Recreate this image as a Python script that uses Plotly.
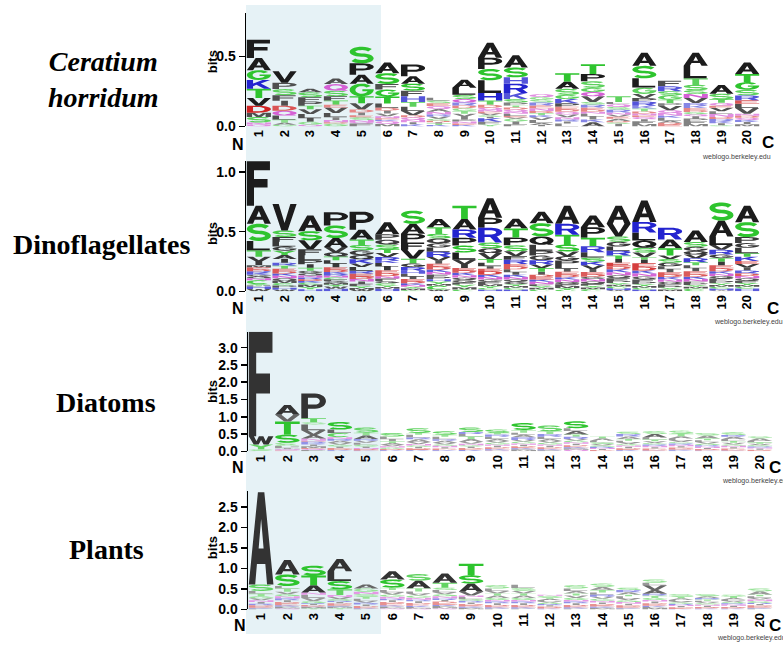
import math
import plotly.graph_objects as go

# ---------------- data ----------------
positions = list(range(1, 21))
tick_labels = [str(p) for p in positions]

# letters listed top-to-bottom for each position, heights in bits
ceratium_letters = ["FAGKTVDMSNQ", "VPSFIDQLTAG", "ASFPTVLIGQ", "AQSFTEVLINDG", "SPAGTVDIESNQF",
                    "ASFGTLDIVNEKQM", "PASFHTLVDQNIK", "LSEQANRVGDITK", "ALSQRDGTVIPNEK", "APSLHTDQNEVGIKFY",
                    "ASHRKSPTDQNLEVGIF", "QGSRENDTKVLAI", "TASGKPEDQVNRIL", "TPSGQVSREDNLIKA", "TLQSRNVEADGI",
                    "ASLGVPRKTDNEQIFM", "FRSGTPVQNKLADE", "ALTSSNVRKEDGQIPFM", "ASTQEVLNDRKIG", "ATGSRELVNDQKIM"]
ceratium_bits = [[.13, .087, .07, .063, .066, .054, .05, .03, .04, .015, .013],
                 [.082, .045, .043, .04, .036, .035, .035, .03, .02, .015, .012],
                 [.025, .035, .03, .03, .025, .035, .03, .025, .02, .013],
                 [.04, .047, .04, .03, .03, .02, .04, .03, .02, .015, .01, .02],
                 [.118, .082, .063, .09, .05, .045, .02, .02, .015, .02, .015, .01, .02],
                 [.075, .077, .04, .05, .05, .03, .02, .02, .02, .015, .01, .01, .02, .018],
                 [.084, .053, .05, .04, .04, .035, .03, .03, .015, .02, .015, .015, .015],
                 [.02, .02, .02, .02, .02, .02, .015, .015, .015, .01, .01, .01, .01],
                 [.058, .05, .03, .025, .02, .02, .02, .02, .02, .02, .015, .015, .01, .01],
                 [.106, .08, .081, .09, .055, .03, .02, .015, .015, .01, .015, .01, .01, .025, .02, .014],
                 [.087, .07, .046, .066, .043, .025, .02, .015, .015, .015, .015, .015, .01, .01, .02, .02, .015],
                 [.02, .02, .02, .02, .02, .02, .015, .015, .015, .02, .02, .015, .01],
                 [.06, .052, .043, .03, .03, .025, .02, .015, .02, .02, .015, .015, .015, .02],
                 [.071, .051, .047, .03, .03, .04, .02, .02, .015, .015, .015, .02, .02, .02, .03],
                 [.042, .015, .02, .02, .02, .015, .015, .015, .015, .01, .01, .019],
                 [.094, .089, .066, .045, .03, .025, .03, .02, .02, .015, .015, .01, .015, .015, .02, .017],
                 [.04, .035, .03, .03, .025, .02, .03, .02, .02, .015, .02, .015, .013, .013],
                 [.094, .089, .046, .04, .025, .03, .035, .02, .015, .015, .015, .015, .015, .015, .02, .02, .017],
                 [.063, .04, .025, .02, .015, .025, .02, .02, .015, .015, .015, .015, .008],
                 [.082, .058, .054, .04, .035, .025, .03, .04, .015, .015, .015, .015, .015, .016]]

dino_letters = ["FASLTVIMEDRKGQNCYPHW", "VSFLGYAIRTEDKNQMCPHW", "ASVFLPITGQNRDKCMYH", "PSAVQTLIEDKRNCFGMYWH",
                "PATSGQKVLREDNIFYMW", "APQSTVRKLIEDNFGCYMH", "SAPFVTGRHLIEDKNYMC", "ATSQGLRVIEDKNFPHYMCW",
                "TARPSLVIEDKNQGFYMC", "APRSQVTLIEDKNGFMYCH", "ATPSVFREDLIKNQGYMCH", "ASQLPGRVTIDEKNFYMC",
                "ARTSVGPLIEDKNQFMYC", "APTRLSKVIEDGNQFYMC", "AVSGLRTIEDKNQFPYMCHW", "ARLQSVTIEDKNGFPYMCH",
                "RATVSGLIEDKNQFPYM", "ASGQVRTLIEDKNFPYMC", "SALVRGTIEDKNQFPYMCHW", "ASPGLTKEVIRDNQFYMCH"]
dino_bits = [[.371, .151, .145, .077, .055, .04, .03, .02, .015, .015, .015, .015, .015, .015, .015, .034, .01, .01, .02, .02],
             [.22, .055, .04, .04, .035, .035, .035, .03, .025, .025, .02, .02, .02, .02, .02, .02, .02, .02, .015, .015],
             [.13, .077, .075, .05, .04, .035, .03, .025, .02, .02, .015, .015, .015, .015, .015, .02, .02, .017],
             [.11, .105, .075, .045, .035, .03, .03, .03, .02, .02, .015, .015, .015, .015, .015, .015, .015, .015, .02, .021],
             [.152, .082, .045, .045, .04, .035, .035, .03, .03, .025, .025, .02, .02, .02, .02, .015, .015, .013],
             [.102, .045, .04, .04, .03, .035, .03, .02, .03, .03, .025, .025, .02, .02, .02, .015, .015, .015, .022],
             [.11, .082, .075, .06, .075, .04, .03, .03, .025, .025, .02, .02, .015, .015, .015, .015, .013, .01],
             [.069, .055, .04, .04, .035, .035, .045, .03, .025, .025, .025, .02, .02, .02, .02, .02, .02, .015, .032, .015],
             [.111, .088, .069, .065, .058, .06, .04, .03, .02, .02, .02, .02, .02, .02, .02, .02, .02, .015],
             [.165, .083, .124, .048, .04, .05, .03, .03, .02, .02, .03, .02, .02, .02, .02, .015, .015, .015, .015],
             [.083, .075, .065, .05, .04, .03, .035, .02, .025, .025, .02, .02, .02, .02, .02, .015, .015, .015, .015],
             [.096, .11, .07, .05, .04, .04, .035, .03, .03, .025, .02, .02, .02, .02, .015, .015, .015, .015],
             [.152, .091, .082, .058, .04, .035, .04, .03, .025, .025, .02, .02, .02, .02, .015, .015, .015, .014],
             [.097, .089, .07, .05, .045, .035, .03, .03, .025, .02, .02, .02, .02, .02, .015, .015, .015, .018],
             [.152, .105, .045, .04, .035, .04, .03, .03, .03, .025, .025, .025, .025, .02, .02, .015, .015, .015, .015, .01],
             [.179, .088, .068, .06, .04, .04, .02, .03, .03, .03, .025, .025, .025, .02, .02, .015, .015, .015, .015],
             [.097, .075, .06, .03, .03, .03, .025, .025, .02, .02, .02, .02, .02, .015, .015, .015, .015],
             [.097, .04, .035, .03, .03, .035, .025, .025, .025, .025, .02, .02, .02, .015, .015, .015, .015, .023],
             [.152, .132, .072, .04, .04, .03, .03, .03, .025, .025, .02, .02, .02, .02, .02, .015, .015, .015, .015, .008],
             [.138, .125, .05, .04, .045, .03, .035, .025, .03, .025, .025, .02, .02, .02, .02, .015, .015, .015, .024]]

diatom_letters = ["FWYSCL", "AVTSCGPLIMNQE", "PTSLVANDRKIMEQF", "SLCNRAVGIEDKF", "STARVLGINDEK",
                  "SLITAVNGDKE", "STLRAVNGIDEKF", "STLRAVGNIDEKF", "SRLTAVNGIDEKF", "STRLAVGNIDEKFQ",
                  "STLARVGNIDEKFM", "STRLAVGNIDEKF", "SLATRVGNIDEKFMQ", "TALSVGRNIDE", "SRATLVGNIDEK",
                  "SALTVGRNIDEK", "STALVGRNIDEKF", "SATLVGRNIDEK", "SRALTVGNIDEK", "SALTVGRNIDEK"]
diatom_bits = [[3.02, .237, .14, .03, .02, .01],
               [.286, .19, .383, .237, .05, .04, .03, .03, .02, .015, .015, .02, .027],
               [.714, .12, .06, .17, .14, .1, .06, .03, .05, .03, .05, .05, .03, .03, .04],
               [.22, .1, .12, .05, .05, .06, .06, .05, .04, .03, .03, .02, .02],
               [.15, .08, .1, .05, .06, .06, .05, .04, .03, .03, .02, .02],
               [.1, .08, .06, .05, .05, .04, .04, .04, .03, .02, .02],
               [.14, .05, .08, .05, .08, .06, .04, .04, .04, .03, .02, .02, .02],
               [.1, .06, .07, .04, .06, .05, .04, .04, .04, .03, .02, .02, .01],
               [.13, .06, .07, .07, .08, .06, .04, .04, .04, .03, .03, .03, .01],
               [.1, .04, .07, .06, .06, .05, .05, .04, .04, .03, .03, .03, .01, .02],
               [.2, .08, .06, .07, .08, .05, .05, .04, .04, .03, .03, .03, .02, .04],
               [.17, .08, .08, .06, .06, .05, .05, .04, .04, .03, .03, .03, .03],
               [.2, .08, .1, .07, .06, .05, .05, .04, .04, .03, .03, .03, .02, .02, .05],
               [.05, .07, .05, .05, .04, .04, .03, .03, .03, .02, .02],
               [.07, .07, .07, .05, .05, .05, .04, .04, .04, .03, .03, .03],
               [.08, .1, .06, .05, .05, .04, .04, .04, .04, .03, .03, .02],
               [.09, .07, .07, .05, .05, .04, .04, .04, .04, .03, .03, .03, .02],
               [.07, .09, .05, .05, .05, .04, .04, .04, .03, .03, .02, .02],
               [.08, .05, .07, .05, .05, .05, .04, .04, .04, .03, .03, .02],
               [.05, .08, .04, .04, .04, .04, .03, .03, .03, .02, .02, .01]]

plant_letters = ["ASLTGVNIRDEKF", "ASLTVGNRIDEKFMQ", "STANLVGRIDEKFMY", "ALSTNVGRIDEKFMY", "AGNSTLVRIDEKF",
                 "ASTLVGNRIDEKFMQ", "SATLVGNRIDEKFMQ", "ATSLVGNRIDEKFMQ", "TSAVNLGRIDEKFM", "SLVTAGNRIDEKF",
                 "LSVTAGNRIDEKF", "NSTALVGRIDEK", "SLATVGNRIDEKF", "SATLRVGNIDEKFM", "SRATLVGNIDEKF",
                 "SLVARTGNIDEKFM", "STALVGRNIDEK", "SARTLVGNIDEK", "STALVGRNIDEK", "SATLVNGRIDEKF"]
plant_bits = [[2.25, .16, .07, .06, .05, .05, .04, .04, .04, .03, .03, .02, .02],
              [.354, .28, .06, .08, .06, .05, .05, .05, .04, .04, .04, .03, .03, .02, .02],
              [.24, .24, .176, .05, .08, .08, .05, .02, .02, .02, .02, .01, .01, .03, .02],
              [.297, .241, .2, .14, .05, .05, .04, .03, .03, .03, .03, .02, .02, .02, .03],
              [.1, .08, .06, .06, .05, .05, .05, .04, .04, .03, .02, .02, .01],
              [.2, .2, .06, .05, .06, .05, .05, .04, .04, .04, .04, .03, .03, .02, .02],
              [.16, .185, .08, .05, .05, .05, .05, .04, .04, .04, .03, .03, .02, .02, .016],
              [.225, .12, .06, .05, .05, .05, .05, .04, .04, .04, .04, .03, .03, .03, .02],
              [.282, .2, .2, .09, .04, .05, .04, .04, .04, .03, .03, .03, .02, .02],
              [.08, .06, .06, .05, .06, .05, .04, .04, .04, .03, .03, .03, .02],
              [.08, .07, .06, .05, .06, .05, .04, .04, .04, .03, .03, .03, .02],
              [.03, .04, .03, .04, .03, .03, .03, .03, .03, .03, .02, .02],
              [.08, .06, .06, .05, .06, .05, .04, .04, .04, .03, .03, .03, .02],
              [.08, .08, .06, .05, .05, .05, .05, .04, .04, .03, .03, .03, .02, .02],
              [.06, .05, .06, .04, .05, .05, .04, .04, .04, .03, .03, .02, .02],
              [.08, .06, .12, .09, .05, .05, .05, .04, .04, .03, .03, .03, .02, .04],
              [.06, .04, .04, .03, .03, .03, .03, .03, .03, .02, .02, .01],
              [.05, .04, .04, .03, .03, .03, .03, .03, .03, .02, .02, .02],
              [.04, .04, .04, .03, .03, .03, .03, .03, .03, .02, .02, .02],
              [.07, .08, .04, .04, .04, .04, .04, .03, .03, .03, .03, .02, .02]]

panel_names = ["<b><i>Ceratium</i></b><br><b><i>horridum</i></b>", "<b>Dinoflagellates</b>",
               "<b>Diatoms</b>", "<b>Plants</b>"]
y_ticks = [[0.0, 0.5], [0.0, 0.5, 1.0], [0.0, 0.5, 1.0, 1.5, 2.0, 2.5, 3.0], [0.0, 0.5, 1.0, 1.5, 2.0, 2.5]]

# ---------------- glyphs (unit box) ----------------
def _arc(cx, cy, rx, ry, a0, a1, n=12):
    pts = []
    for k in range(n + 1):
        a = math.radians(a0 + (a1 - a0) * k / n)
        pts.append((cx + rx * math.cos(a), cy + ry * math.sin(a)))
    return pts


def _stroke(pts, wx, wy):
    left, right = [], []
    n = len(pts)
    for i in range(n):
        if i == 0:
            dx, dy = pts[1][0] - pts[0][0], pts[1][1] - pts[0][1]
        elif i == n - 1:
            dx, dy = pts[-1][0] - pts[-2][0], pts[-1][1] - pts[-2][1]
        else:
            dx, dy = pts[i + 1][0] - pts[i - 1][0], pts[i + 1][1] - pts[i - 1][1]
        L = math.hypot(dx, dy)
        nx, ny = -dy / L, dx / L
        left.append((pts[i][0] + nx * wx, pts[i][1] + ny * wy))
        right.append((pts[i][0] - nx * wx, pts[i][1] - ny * wy))
    return left + right[::-1]


def _area(p):
    s = 0.0
    for i in range(len(p)):
        x1, y1 = p[i]
        x2, y2 = p[(i + 1) % len(p)]
        s += x1 * y2 - x2 * y1
    return s / 2


def _orient(p, ccw):
    if (_area(p) > 0) != ccw:
        return p[::-1]
    return p


def _rect(x0, y0, x1, y1):
    return [(x0, y0), (x1, y0), (x1, y1), (x0, y1)]


P_OUT = [(0, 0), (0.27, 0), (0.27, 0.38)] + _arc(0.55, 0.69, 0.45, 0.31, -90, 90, 14) + [(0, 1)]
P_HOLE = [(0.27, 0.55)] + _arc(0.55, 0.69, 0.2, 0.14, -90, 90, 10) + [(0.27, 0.83)]
O_OUT = _arc(0.5, 0.5, 0.5, 0.5, 0, 360, 28)[:-1]
O_HOLE = _arc(0.5, 0.5, 0.25, 0.3, 0, 360, 20)[:-1]
S_LINE = _arc(0.5, 0.7, 0.38, 0.2, 25, 270, 16) + _arc(0.5, 0.3, 0.38, 0.2, 90, -155, 16)[1:]

GLYPHS = {
    "A": [([(0, 0), (0.26, 0), (0.33, 0.22), (0.67, 0.22), (0.74, 0), (1, 0), (0.63, 1), (0.37, 1)], False),
          ([(0.4, 0.39), (0.6, 0.39), (0.5, 0.71)], True)],
    "C": [(_arc(0.5, 0.5, 0.5, 0.5, 42, 318, 18) + _arc(0.5, 0.5, 0.26, 0.29, 318, 42, 18), False)],
    "D": [([(0, 0)] + _arc(0.45, 0.5, 0.55, 0.5, -90, 90, 16) + [(0, 1)], False),
          ([(0.26, 0.19)] + _arc(0.45, 0.5, 0.29, 0.31, -90, 90, 12) + [(0.26, 0.81)], True)],
    "E": [([(0, 0), (1, 0), (1, 0.18), (0.27, 0.18), (0.27, 0.42), (0.9, 0.42), (0.9, 0.6), (0.27, 0.6),
            (0.27, 0.82), (0.97, 0.82), (0.97, 1), (0, 1)], False)],
    "F": [([(0, 0), (0.3, 0), (0.3, 0.41), (0.86, 0.41), (0.86, 0.6), (0.3, 0.6), (0.3, 0.8),
            (0.96, 0.8), (0.96, 1), (0, 1)], False)],
    "G": [(_arc(0.5, 0.5, 0.5, 0.5, 40, 355, 18) + [(1.0, 0.56), (0.53, 0.56), (0.53, 0.4), (0.745, 0.4)]
           + _arc(0.5, 0.5, 0.26, 0.3, 340.5, 40, 18), False)],
    "H": [([(0, 0), (0.26, 0), (0.26, 0.41), (0.74, 0.41), (0.74, 0), (1, 0), (1, 1), (0.74, 1), (0.74, 0.6),
            (0.26, 0.6), (0.26, 1), (0, 1)], False)],
    "I": [(_rect(0.36, 0, 0.64, 1), False)],
    "K": [([(0, 0), (0.26, 0), (0.26, 0.3), (0.4, 0.45), (0.72, 0), (1.0, 0), (0.58, 0.6), (0.97, 1),
            (0.65, 1), (0.26, 0.6), (0.26, 1), (0, 1)], False)],
    "L": [([(0, 0), (0.95, 0), (0.95, 0.19), (0.27, 0.19), (0.27, 1), (0, 1)], False)],
    "M": [([(0, 0), (0.22, 0), (0.22, 0.72), (0.4, 0), (0.6, 0), (0.78, 0.72), (0.78, 0), (1, 0), (1, 1),
            (0.68, 1), (0.5, 0.32), (0.32, 1), (0, 1)], False)],
    "N": [([(0, 0), (0.24, 0), (0.24, 0.64), (0.74, 0), (1, 0), (1, 1), (0.76, 1), (0.76, 0.36), (0.26, 1),
            (0, 1)], False)],
    "P": [(P_OUT, False), (P_HOLE, True)],
    "Q": [(O_OUT, False), (O_HOLE, True), ([(0.5, 0.3), (0.78, 0.0), (1.0, 0.0), (0.72, 0.4)], False)],
    "R": [(P_OUT, False), (P_HOLE, True), ([(0.48, 0.42), (0.72, 0), (1.0, 0), (0.76, 0.46)], False)],
    "S": [(_stroke(S_LINE, 0.12, 0.1), False)],
    "T": [([(0.36, 0), (0.64, 0), (0.64, 0.81), (1, 0.81), (1, 1), (0, 1), (0, 0.81), (0.36, 0.81)], False)],
    "V": [([(0, 1), (0.37, 0), (0.63, 0), (1, 1), (0.74, 1), (0.5, 0.28), (0.26, 1)], False)],
    "W": [([(0, 1), (0.2, 0), (0.4, 0), (0.5, 0.55), (0.6, 0), (0.8, 0), (1, 1), (0.79, 1), (0.69, 0.4),
            (0.59, 1), (0.41, 1), (0.31, 0.4), (0.21, 1)], False)],
    "Y": [([(0.37, 0), (0.63, 0), (0.63, 0.42), (1, 1), (0.72, 1), (0.5, 0.64), (0.28, 1), (0, 1),
            (0.37, 0.42)], False)],
}
GLYPHS = {k: [(_orient(p, not hole), hole) for p, hole in v] for k, v in GLYPHS.items()}

# ---------------- colours ----------------
GREEN, BLUE, RED, MAGENTA = "#2ec42e", "#2323cf", "#cf2323", "#c832c8"


def color_map(black, black_letters=""):
    cmap = {}
    for ch in GLYPHS:
        if ch in black_letters:
            cmap[ch] = black
        elif ch in "GSTYC":
            cmap[ch] = GREEN
        elif ch in "KRH":
            cmap[ch] = BLUE
        elif ch in "DE":
            cmap[ch] = RED
        elif ch in "NQ":
            cmap[ch] = MAGENTA
        else:
            cmap[ch] = black
    return cmap


def faded(col, px, strength):
    # thin (blurred) letters look washed out in the reference
    if px >= 7:
        return col
    f = strength * (0.5 if px < 3.5 else 0.25)
    r, g, b = int(col[1:3], 16), int(col[3:5], 16), int(col[5:7], 16)
    r, g, b = [int(round(c + (255 - c) * f)) for c in (r, g, b)]
    return "#%02x%02x%02x" % (r, g, b)


W, H = 783, 648
PAD = 0.03
panels = [
    dict(letters=ceratium_letters, bits=ceratium_bits, ymax=0.81, zero=128, ppb=142, x0=246, x1=760,
         cmap=color_map("#1c1c1c"), fade=0.9),
    dict(letters=dino_letters, bits=dino_bits, ymax=1.09, zero=295, ppb=121, x0=246, x1=760,
         cmap=color_map("#1c1c1c", "GQ"), fade=0.5),
    dict(letters=diatom_letters, bits=diatom_bits, ymax=3.46, zero=457, ppb=35, x0=248, x1=773,
         cmap=color_map("#333333"), fade=1.0),
    dict(letters=plant_letters, bits=plant_bits, ymax=2.88, zero=617, ppb=41.5, x0=248, x1=773,
         cmap=color_map("#333333"), fade=1.0),
]

fig = go.Figure()
layout_axes = {}
for k, pn in enumerate(panels):
    sx = "" if k == 0 else str(k + 1)
    groups = {}
    for i, (lets, hs) in enumerate(zip(pn["letters"], pn["bits"])):
        xc = positions[i]
        y = 0.0
        for ch, h in reversed(list(zip(lets, hs))):
            col = faded(pn["cmap"][ch], h * pn["ppb"], pn["fade"])
            xs, ys = groups.setdefault(col, ([], []))
            for poly, _hole in GLYPHS[ch]:
                for u, v in poly:
                    xs.append(xc - 0.5 + PAD + (1 - 2 * PAD) * u)
                    ys.append(y + h * v)
                xs.append(None)
                ys.append(None)
            y += h
    for col, (xs, ys) in groups.items():
        fig.add_trace(go.Scatter(x=xs, y=ys, mode="lines", fill="toself", fillcolor=col,
                                 line=dict(width=0, color=col, simplify=False), hoverinfo="skip",
                                 showlegend=False, xaxis="x" + sx, yaxis="y" + sx))
    top_px = pn["zero"] - pn["ymax"] * pn["ppb"]
    layout_axes["xaxis" + sx] = dict(
        domain=[pn["x0"] / W, pn["x1"] / W], range=[0.5, 20.5], anchor="y" + sx,
        tickmode="array", tickvals=positions, ticktext=tick_labels, tickangle=-90,
        tickfont=dict(family="Liberation Sans", size=13, color="black", weight="bold"),
        showline=False, showgrid=False, zeroline=False, ticks="", fixedrange=True)
    layout_axes["yaxis" + sx] = dict(
        domain=[(H - pn["zero"]) / H, (H - top_px) / H], range=[0, pn["ymax"]], anchor="x" + sx,
        tickmode="array", tickvals=y_ticks[k], ticktext=["%.1f" % t for t in y_ticks[k]],
        tickfont=dict(family="Liberation Sans", size=14, color="black", weight="bold"),
        showline=True, linecolor="black", linewidth=1.5, ticks="outside", ticklen=6, tickwidth=1.5,
        tickcolor="black", showgrid=False, zeroline=False, fixedrange=True)

annotations = []
label_pos = [(103, 80), (102, 248), (106, 408), (106, 556)]
for name, (lx, ly) in zip(panel_names, label_pos):
    annotations.append(dict(text=name, x=lx / W, y=(H - ly) / H, xref="paper", yref="paper",
                            showarrow=False, xanchor="center", yanchor="middle",
                            font=dict(family="Liberation Serif", size=28, color="black")))
bits_y = [63, 237, 397, 555]
for by in bits_y:
    annotations.append(dict(text="<b>bits</b>", x=212 / W, y=(H - by) / H, xref="paper", yref="paper",
                            showarrow=False, textangle=-90, xanchor="center", yanchor="middle",
                            font=dict(family="Liberation Sans", size=13, color="black")))
nc_pos = [((238, 146), (768, 144)), ((238, 312), (773, 312)), ((238, 473), (775, 473)), ((240, 633), (775, 633))]
for (nxp, nyp), (cxp, cyp) in nc_pos:
    annotations.append(dict(text="<b>N</b>", x=nxp / W, y=(H - nyp) / H, xref="paper", yref="paper",
                            showarrow=False, xanchor="center", yanchor="middle",
                            font=dict(family="Liberation Sans", size=16, color="black")))
    annotations.append(dict(text="<b>C</b>", x=cxp / W, y=(H - cyp) / H, xref="paper", yref="paper",
                            showarrow=False, xanchor="center", yanchor="middle",
                            font=dict(family="Liberation Sans", size=17, color="black")))
web_pos = [(700, 159), (712, 326), (720, 487), (715, 646)]
for wx, wy in web_pos:
    annotations.append(dict(text="weblogo.berkeley.edu", x=wx / W, y=(H - wy) / H, xref="paper", yref="paper",
                            showarrow=False, xanchor="left", yanchor="middle",
                            font=dict(family="Liberation Sans", size=7, color="#444444")))

fig.update_layout(
    width=W, height=H, autosize=False,
    margin=dict(l=0, r=0, t=0, b=0),
    paper_bgcolor="white", plot_bgcolor="rgba(0,0,0,0)",
    shapes=[dict(type="rect", xref="paper", yref="paper", x0=246 / W, x1=381 / W,
                 y0=(H - 642) / H, y1=(H - 5) / H, fillcolor="#e6f2f6", line=dict(width=0), layer="below")],
    annotations=annotations,
    **layout_axes,
)

fig.write_html("out.html", config={"displayModeBar": False, "staticPlot": True},
               post_script="document.body.style.margin='0px';")
